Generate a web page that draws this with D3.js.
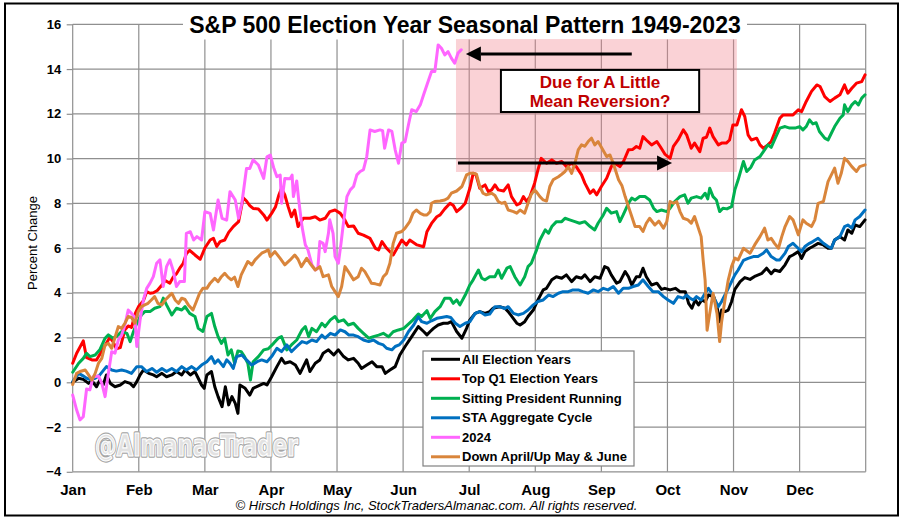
<!DOCTYPE html>
<html><head><meta charset="utf-8">
<script src="https://cdn.jsdelivr.net/npm/d3@7"></script>
<style>html,body{margin:0;padding:0;background:#fff;} svg{display:block;font-family:"Liberation Sans",Arial,sans-serif;}</style>
</head><body><svg id="chart" width="900" height="520"></svg>
<script>
// ---------- DATA ----------
const monthLabels = ["Jan","Feb","Mar","Apr","May","Jun","Jul","Aug","Sep","Oct","Nov","Dec"];
const yTickValues = [-4,-2,0,2,4,6,8,10,12,14,16];
const seriesNames = ["All Election Years","Top Q1 Election Years","Sitting President Running","STA Aggregate Cycle","2024","Down April/Up May & June"];
const titleText = "S&P 500 Election Year Seasonal Pattern 1949-2023";
const noteLines = ["Due for A Little","Mean Reversion?"];
const footerText = "© Hirsch Holdings Inc, StockTradersAlmanac.com. All rights reserved.";
const watermarkText = "@AlmanacTrader";
const yAxisTitle = "Percent Change";

// [month position (0 = Jan 1, 12 = Dec 31), percent change]
const allElectionYears = [[0,0],[0.09,0.18],[0.16,0.13],[0.24,-0.05],[0.29,0.07],[0.36,-0.2],[0.41,0.1],[0.46,-0.12],[0.51,0.33],[0.57,-0.05],[0.64,-0.2],[0.72,-0.12],[0.79,0.03],[0.87,-0.05],[0.92,-0.2],[0.97,0.03],[1.02,0.33],[1.07,0.55],[1.15,0.4],[1.22,0.33],[1.27,0.25],[1.35,0.4],[1.42,0.25],[1.5,0.33],[1.57,0.48],[1.65,0.33],[1.7,0.55],[1.78,0.33],[1.85,0.48],[1.9,0.18],[1.95,-0.12],[1.99,-0.27],[2.03,0.33],[2.1,0.48],[2.15,-0.2],[2.2,-0.64],[2.26,-1.09],[2.31,-0.2],[2.36,-1.01],[2.41,-0.64],[2.46,-0.94],[2.5,-1.39],[2.53,-0.12],[2.61,-0.27],[2.68,-0.57],[2.73,-0.27],[2.81,-0.16],[2.89,-0.05],[2.94,-0.12],[3.01,0.25],[3.09,0.7],[3.16,1.07],[3.21,0.85],[3.29,0.92],[3.37,0.77],[3.44,0.4],[3.49,0.7],[3.54,1.0],[3.59,0.48],[3.67,0.85],[3.74,1.0],[3.79,1.3],[3.87,1.45],[3.95,1.22],[4.02,1.45],[4.1,1.15],[4.17,1.0],[4.25,1.07],[4.32,0.85],[4.37,0.62],[4.45,0.77],[4.53,0.92],[4.6,0.7],[4.68,0.7],[4.73,0.4],[4.8,0.55],[4.88,0.7],[4.95,1.22],[5.03,1.6],[5.13,2.04],[5.23,2.49],[5.31,2.27],[5.36,2.12],[5.41,2.27],[5.46,2.41],[5.53,2.56],[5.61,2.64],[5.68,2.64],[5.73,2.71],[5.81,2.27],[5.89,1.97],[5.96,2.41],[6.01,2.79],[6.09,3.08],[6.16,3.16],[6.24,3.08],[6.31,3.16],[6.36,3.31],[6.46,3.38],[6.54,3.31],[6.59,3.16],[6.72,2.64],[6.77,2.56],[6.84,2.71],[6.89,2.94],[6.97,3.23],[7.04,3.68],[7.12,4.13],[7.17,4.2],[7.25,4.58],[7.32,4.72],[7.4,4.65],[7.47,4.8],[7.55,4.5],[7.62,4.72],[7.7,4.65],[7.75,4.8],[7.83,4.5],[7.9,4.72],[7.98,4.65],[8.05,5.17],[8.1,5.1],[8.15,4.8],[8.23,4.43],[8.28,4.5],[8.36,4.95],[8.41,4.72],[8.46,4.35],[8.53,4.72],[8.58,4.72],[8.63,5.1],[8.68,4.72],[8.76,4.35],[8.84,4.43],[8.91,4.15],[8.96,4.2],[9.04,4.13],[9.12,4.2],[9.19,4.05],[9.27,4.05],[9.32,3.53],[9.37,3.31],[9.42,3.68],[9.47,3.46],[9.52,3.68],[9.57,3.6],[9.62,3.9],[9.7,3.83],[9.75,3.38],[9.79,2.71],[9.82,3.23],[9.87,3.16],[9.92,3.23],[9.97,3.6],[10.02,4.15],[10.1,4.5],[10.17,4.68],[10.25,4.6],[10.33,4.75],[10.43,4.87],[10.5,5.1],[10.57,4.85],[10.62,5.02],[10.7,4.95],[10.78,5.25],[10.85,5.62],[10.9,5.69],[10.98,5.84],[11.03,5.54],[11.08,5.84],[11.15,5.99],[11.2,6.07],[11.28,6.21],[11.36,6.14],[11.43,5.99],[11.48,5.99],[11.53,6.36],[11.61,6.51],[11.68,6.36],[11.73,6.81],[11.79,6.66],[11.84,7.03],[11.91,6.96],[11.99,7.26]];

const topQ1ElectionYears = [[0,0.85],[0.06,1.3],[0.16,1.85],[0.21,1.1],[0.29,1.0],[0.36,1.0],[0.44,1.4],[0.51,1.75],[0.56,2.0],[0.61,1.82],[0.66,1.5],[0.72,1.55],[0.79,2.35],[0.84,2.52],[0.89,2.45],[0.95,3.1],[1.0,3.4],[1.07,3.65],[1.12,4.05],[1.17,3.98],[1.22,4.0],[1.28,4.1],[1.35,4.35],[1.4,4.55],[1.47,4.43],[1.52,4.7],[1.57,4.85],[1.62,5.1],[1.67,5.3],[1.72,5.75],[1.77,5.9],[1.85,5.69],[1.93,5.5],[2.0,6.0],[2.08,6.36],[2.13,6.44],[2.18,6.07],[2.23,6.29],[2.3,6.36],[2.36,6.7],[2.43,6.96],[2.51,7.18],[2.58,8.25],[2.63,8.1],[2.68,7.9],[2.73,7.77],[2.81,7.75],[2.89,7.48],[2.94,7.25],[3.01,7.55],[3.07,7.85],[3.12,8.37],[3.16,8.67],[3.21,8.37],[3.26,7.85],[3.31,7.4],[3.36,7.7],[3.41,6.96],[3.49,7.33],[3.59,7.33],[3.67,7.4],[3.74,7.25],[3.82,7.33],[3.89,7.63],[3.97,7.7],[4.05,7.55],[4.12,7.25],[4.17,6.96],[4.25,6.99],[4.32,6.66],[4.4,6.58],[4.5,6.43],[4.58,5.99],[4.63,5.92],[4.68,6.29],[4.75,5.99],[4.85,5.69],[4.98,6.36],[5.05,6.14],[5.1,6.36],[5.21,6.14],[5.31,6.06],[5.36,6.73],[5.43,7.1],[5.51,7.4],[5.56,7.48],[5.63,7.75],[5.71,8.0],[5.76,7.9],[5.81,7.63],[5.88,7.8],[5.94,8.0],[6.01,8.67],[6.06,9.34],[6.1,9.3],[6.16,8.67],[6.24,8.82],[6.29,8.52],[6.34,8.6],[6.39,8.82],[6.44,8.6],[6.52,8.55],[6.59,8.82],[6.64,8.3],[6.72,7.93],[6.77,8.0],[6.82,8.3],[6.87,8.08],[6.92,8.3],[6.99,8.9],[7.04,9.49],[7.09,10.01],[7.17,9.79],[7.25,9.94],[7.32,9.79],[7.4,9.87],[7.47,9.64],[7.55,9.79],[7.62,9.64],[7.7,9.27],[7.75,8.9],[7.83,8.45],[7.88,8.6],[7.93,8.38],[8.0,8.75],[8.08,9.12],[8.15,9.64],[8.2,9.79],[8.28,9.64],[8.34,9.9],[8.41,10.39],[8.47,10.4],[8.53,10.54],[8.58,10.46],[8.63,10.98],[8.68,10.83],[8.76,10.61],[8.84,10.76],[8.89,10.54],[8.96,10.2],[9.04,10.01],[9.09,10.54],[9.16,10.83],[9.24,11.28],[9.29,11.06],[9.36,10.46],[9.41,10.69],[9.49,10.31],[9.54,10.91],[9.59,10.95],[9.64,11.36],[9.69,10.98],[9.77,10.61],[9.82,10.69],[9.89,10.69],[9.94,10.83],[9.99,11.5],[10.05,11.5],[10.12,12.18],[10.17,11.88],[10.22,11.06],[10.27,10.83],[10.35,10.91],[10.4,10.61],[10.45,10.46],[10.52,10.61],[10.57,10.76],[10.62,11.13],[10.7,11.8],[10.75,11.95],[10.82,11.95],[10.9,11.95],[10.98,12.18],[11.03,12.1],[11.1,12.55],[11.18,13.0],[11.26,13.29],[11.31,13.22],[11.38,12.77],[11.46,12.55],[11.53,12.7],[11.61,12.85],[11.68,13.29],[11.73,12.92],[11.79,13.14],[11.86,13.37],[11.94,13.44],[11.99,13.74]];

const sittingPresidentRunning = [[0,0.45],[0.09,0.85],[0.16,1.07],[0.21,1.3],[0.26,1.15],[0.34,1.22],[0.41,1.45],[0.49,1.97],[0.54,2.12],[0.61,1.97],[0.69,2.12],[0.74,2.27],[0.82,2.19],[0.87,1.82],[0.92,2.27],[0.97,2.64],[1.04,3.01],[1.09,3.16],[1.17,3.16],[1.24,3.31],[1.32,3.38],[1.37,3.76],[1.42,3.46],[1.5,3.01],[1.57,3.31],[1.65,3.23],[1.7,3.38],[1.77,3.08],[1.85,2.94],[1.9,2.41],[1.97,2.27],[2.03,2.94],[2.1,3.08],[2.15,2.49],[2.2,2.04],[2.25,1.74],[2.3,1.97],[2.35,1.22],[2.4,1.45],[2.45,0.85],[2.5,1.4],[2.55,1.37],[2.6,1.15],[2.65,0.85],[2.69,0.1],[2.73,0.92],[2.81,1.15],[2.89,1.45],[2.96,1.5],[3.04,1.74],[3.11,1.97],[3.16,2.04],[3.24,1.45],[3.31,1.67],[3.39,1.89],[3.47,2.34],[3.52,2.49],[3.57,2.04],[3.62,2.41],[3.69,2.26],[3.77,2.64],[3.82,2.49],[3.9,2.79],[3.97,2.94],[4.02,2.71],[4.1,2.79],[4.17,2.56],[4.25,2.64],[4.32,2.41],[4.4,2.19],[4.48,1.97],[4.55,2.04],[4.63,2.11],[4.7,2.19],[4.78,2.04],[4.85,2.26],[4.93,2.34],[5.01,2.41],[5.08,2.6],[5.15,2.79],[5.23,3.05],[5.28,2.94],[5.36,3.2],[5.41,2.85],[5.48,3.16],[5.56,3.38],[5.63,3.76],[5.71,3.76],[5.76,3.53],[5.81,3.68],[5.86,3.46],[5.94,3.9],[6.01,4.35],[6.06,4.58],[6.14,5.02],[6.19,4.65],[6.24,4.58],[6.31,4.72],[6.39,4.72],[6.44,5.02],[6.49,4.65],[6.57,5.1],[6.62,5.17],[6.69,4.72],[6.77,4.35],[6.84,4.72],[6.89,5.17],[6.94,5.32],[7.02,5.92],[7.07,6.36],[7.15,6.81],[7.2,6.66],[7.25,6.96],[7.32,7.18],[7.4,7.18],[7.45,7.33],[7.52,7.26],[7.6,7.18],[7.67,7.11],[7.75,7.18],[7.83,6.96],[7.9,6.81],[7.95,7.11],[8.03,7.48],[8.08,7.78],[8.15,7.56],[8.23,7.63],[8.28,7.18],[8.33,7.48],[8.41,8.0],[8.46,8.23],[8.51,8.15],[8.58,8.3],[8.66,8.3],[8.73,8.15],[8.79,7.78],[8.84,7.63],[8.91,7.7],[8.99,7.63],[9.04,7.78],[9.11,8.08],[9.19,8.3],[9.26,8.38],[9.31,8.0],[9.36,8.23],[9.44,8.3],[9.51,8.23],[9.57,8.45],[9.61,8.2],[9.64,8.67],[9.69,8.3],[9.74,8.15],[9.79,7.63],[9.84,7.78],[9.9,7.75],[9.97,7.85],[10.02,8.6],[10.07,9.05],[10.15,9.87],[10.2,9.42],[10.26,9.6],[10.32,9.94],[10.4,10.09],[10.47,10.39],[10.52,10.61],[10.57,10.5],[10.62,10.83],[10.7,11.36],[10.78,11.43],[10.85,11.36],[10.93,11.36],[11.0,11.43],[11.05,11.28],[11.1,11.43],[11.15,11.73],[11.2,11.55],[11.25,11.6],[11.3,11.21],[11.38,10.91],[11.43,10.83],[11.48,11.13],[11.53,11.43],[11.61,11.8],[11.66,11.95],[11.68,12.4],[11.73,12.1],[11.79,12.4],[11.84,12.55],[11.89,12.4],[11.94,12.7],[11.99,12.85]];

const staAggregateCycle = [[0,0.03],[0.09,0.4],[0.15,0.3],[0.21,0.18],[0.27,0.12],[0.34,0.18],[0.41,0.33],[0.51,0.7],[0.59,0.55],[0.66,0.5],[0.74,0.55],[0.81,0.5],[0.89,0.4],[0.97,0.7],[1.04,0.7],[1.12,0.48],[1.2,0.62],[1.27,0.45],[1.35,0.62],[1.42,0.48],[1.5,0.62],[1.57,0.48],[1.65,0.7],[1.72,0.55],[1.8,0.7],[1.87,0.55],[1.95,0.77],[2.03,0.92],[2.1,1.15],[2.15,0.85],[2.2,1.0],[2.28,0.7],[2.33,1.0],[2.38,0.85],[2.43,0.62],[2.48,1.15],[2.56,1.22],[2.63,1.0],[2.71,0.77],[2.79,0.92],[2.86,1.0],[2.94,0.92],[3.01,1.15],[3.09,1.52],[3.16,1.37],[3.24,1.67],[3.31,1.37],[3.39,1.6],[3.47,1.82],[3.54,1.75],[3.62,1.89],[3.69,1.82],[3.77,2.11],[3.82,1.97],[3.9,2.19],[3.97,2.11],[4.05,2.34],[4.12,2.26],[4.18,2.11],[4.25,2.11],[4.32,2.04],[4.4,1.89],[4.48,1.82],[4.55,1.89],[4.63,1.74],[4.7,1.67],[4.75,1.52],[4.83,1.45],[4.88,1.6],[4.94,1.67],[5.01,1.89],[5.08,2.26],[5.16,2.56],[5.23,2.93],[5.28,2.71],[5.36,2.64],[5.43,2.75],[5.51,2.86],[5.58,2.9],[5.66,2.94],[5.72,2.9],[5.79,2.64],[5.86,2.49],[5.94,2.64],[6.01,2.71],[6.09,3.08],[6.16,3.16],[6.24,3.01],[6.31,3.05],[6.39,3.38],[6.46,3.38],[6.54,3.3],[6.59,3.38],[6.67,3.08],[6.74,3.01],[6.82,3.08],[6.89,3.23],[6.97,3.46],[7.04,3.61],[7.12,3.68],[7.2,3.9],[7.27,3.83],[7.35,3.98],[7.42,4.05],[7.5,4.05],[7.57,4.13],[7.65,4.13],[7.72,4.05],[7.8,3.98],[7.88,4.13],[7.95,4.05],[8.03,4.2],[8.1,4.13],[8.18,4.28],[8.26,3.98],[8.33,4.2],[8.41,4.2],[8.48,4.28],[8.56,4.35],[8.63,4.58],[8.71,4.28],[8.78,4.05],[8.86,4.05],[8.94,3.83],[9.01,3.68],[9.09,3.53],[9.16,3.83],[9.24,3.76],[9.29,3.9],[9.34,3.76],[9.39,3.68],[9.44,3.83],[9.51,3.68],[9.57,3.98],[9.62,4.2],[9.67,3.98],[9.72,3.68],[9.77,3.38],[9.82,3.61],[9.87,3.9],[9.92,4.2],[9.97,4.5],[10.02,4.8],[10.07,5.02],[10.15,5.45],[10.22,5.54],[10.3,5.62],[10.37,5.62],[10.45,5.77],[10.5,5.92],[10.57,5.62],[10.65,5.47],[10.7,5.47],[10.78,5.77],[10.83,6.07],[10.9,6.21],[10.95,6.07],[11.03,5.84],[11.08,6.07],[11.15,6.21],[11.2,6.29],[11.28,6.44],[11.36,6.21],[11.43,6.07],[11.48,5.99],[11.53,6.36],[11.61,6.51],[11.68,6.96],[11.73,7.03],[11.79,6.89],[11.84,7.26],[11.91,7.41],[11.99,7.7]];

const year2024 = [[0,-0.57],[0.06,-1.24],[0.11,-1.68],[0.16,-1.54],[0.21,-0.3],[0.26,-0.34],[0.31,0.25],[0.39,0.28],[0.44,-0.04],[0.49,-0.64],[0.54,0.4],[0.59,1.37],[0.64,1.3],[0.69,1.89],[0.74,2.1],[0.79,2.56],[0.84,3.23],[0.89,3.08],[0.94,2.9],[0.97,1.6],[1.02,2.79],[1.07,3.68],[1.12,4.2],[1.17,4.43],[1.22,4.72],[1.27,5.32],[1.32,5.47],[1.37,4.28],[1.42,5.17],[1.47,5.47],[1.52,5.0],[1.57,4.28],[1.62,4.5],[1.69,4.5],[1.72,6.66],[1.78,6.73],[1.83,6.36],[1.88,6.51],[1.95,6.36],[2.0,7.62],[2.08,7.55],[2.13,6.81],[2.2,8.15],[2.26,7.33],[2.33,7.25],[2.38,8.52],[2.46,8.15],[2.51,7.33],[2.56,8.0],[2.63,9.56],[2.68,9.56],[2.73,9.94],[2.81,9.71],[2.89,9.11],[2.94,10.08],[2.99,10.16],[3.04,9.6],[3.09,9.19],[3.14,9.26],[3.16,8.0],[3.21,9.11],[3.29,9.1],[3.32,9.26],[3.34,8.3],[3.39,9.0],[3.42,8.15],[3.47,6.96],[3.52,6.15],[3.56,5.92],[3.62,5.25],[3.67,5.02],[3.71,5.1],[3.74,6.29],[3.79,6.21],[3.82,5.84],[3.87,6.66],[3.89,7.26],[3.94,6.66],[3.97,5.62],[4.02,5.32],[4.06,6.2],[4.09,6.96],[4.15,8.3],[4.2,8.6],[4.25,8.75],[4.3,9.27],[4.35,9.42],[4.4,9.5],[4.45,10.09],[4.5,11.28],[4.57,11.21],[4.65,11.28],[4.69,11.25],[4.72,10.46],[4.78,11.28],[4.83,11.21],[4.88,10.39],[4.93,9.79],[4.98,10.69],[5.03,10.76],[5.08,11.5],[5.13,12.18],[5.2,12.1],[5.26,12.4],[5.31,12.85],[5.36,13.29],[5.43,13.89],[5.48,13.89],[5.53,15.08],[5.58,14.93],[5.63,14.63],[5.68,14.78],[5.73,14.49],[5.78,14.26],[5.83,14.71],[5.88,14.86]];

const downAprilUpMayJune = [[0,-0.1],[0.06,0.4],[0.11,0.48],[0.19,0.55],[0.24,0.33],[0.29,0.1],[0.34,0.4],[0.39,0.85],[0.44,1.07],[0.49,1.67],[0.54,1.74],[0.59,1.52],[0.64,2.0],[0.69,2.49],[0.74,2.41],[0.79,2.64],[0.84,2.94],[0.89,2.9],[0.94,2.64],[0.99,3.16],[1.04,3.38],[1.09,3.46],[1.14,3.53],[1.19,3.68],[1.24,3.83],[1.29,3.53],[1.35,3.46],[1.4,3.68],[1.45,3.83],[1.5,3.98],[1.55,3.68],[1.6,3.53],[1.65,3.76],[1.7,3.7],[1.75,3.46],[1.82,3.23],[1.87,3.6],[1.92,3.98],[1.97,4.2],[2.03,4.2],[2.08,4.43],[2.15,4.65],[2.2,4.5],[2.25,4.72],[2.3,4.87],[2.35,4.7],[2.4,4.58],[2.45,4.7],[2.5,4.28],[2.55,4.8],[2.6,5.1],[2.65,5.4],[2.71,5.25],[2.76,5.47],[2.81,5.62],[2.86,5.77],[2.91,5.84],[2.96,5.92],[2.99,5.62],[3.06,5.84],[3.14,5.54],[3.21,5.25],[3.29,5.47],[3.36,5.69],[3.41,5.5],[3.46,5.17],[3.54,5.54],[3.59,5.32],[3.67,5.02],[3.74,5.17],[3.79,4.72],[3.87,4.8],[3.92,4.28],[3.97,4.05],[4.02,3.83],[4.07,4.28],[4.12,5.17],[4.17,4.95],[4.25,4.58],[4.32,4.72],[4.37,5.1],[4.42,4.95],[4.47,4.7],[4.52,4.43],[4.58,4.4],[4.65,4.35],[4.7,4.72],[4.75,4.87],[4.8,5.32],[4.85,6.21],[4.9,6.66],[4.98,6.74],[5.03,6.89],[5.1,7.18],[5.15,7.56],[5.2,7.7],[5.26,7.55],[5.31,7.48],[5.36,7.48],[5.41,7.63],[5.43,8.0],[5.48,8.08],[5.56,8.1],[5.63,8.15],[5.68,8.23],[5.73,8.45],[5.81,8.55],[5.89,8.75],[5.96,9.27],[6.01,9.34],[6.06,9.34],[6.11,9.3],[6.16,8.75],[6.21,8.45],[6.26,8.38],[6.34,8.45],[6.39,8.35],[6.44,8.08],[6.49,8.0],[6.54,8.05],[6.59,7.7],[6.67,7.63],[6.72,7.56],[6.77,7.7],[6.84,7.56],[6.89,8.0],[6.94,8.4],[6.99,8.6],[7.02,8.5],[7.07,8.3],[7.12,8.15],[7.17,8.1],[7.22,8.75],[7.27,9.05],[7.35,9.19],[7.4,9.3],[7.45,9.42],[7.5,9.64],[7.55,9.34],[7.6,9.79],[7.65,10.39],[7.7,10.61],[7.75,10.55],[7.8,10.76],[7.85,10.91],[7.9,10.61],[7.95,10.76],[8.0,10.5],[8.08,10.09],[8.13,10.16],[8.18,9.79],[8.26,9.05],[8.31,8.8],[8.36,8.3],[8.41,7.85],[8.46,7.41],[8.51,6.96],[8.58,6.96],[8.63,6.74],[8.68,7.11],[8.73,7.33],[8.81,7.03],[8.87,7.2],[8.94,6.89],[8.99,7.18],[9.04,8.08],[9.09,8.0],[9.14,8.08],[9.19,7.63],[9.24,7.33],[9.31,7.26],[9.36,7.11],[9.41,7.41],[9.46,6.96],[9.51,6.51],[9.54,5.47],[9.57,4.57],[9.6,2.33],[9.64,3.08],[9.69,3.98],[9.75,3.08],[9.79,1.82],[9.82,2.71],[9.87,3.68],[9.92,4.57],[9.97,5.17],[10.02,5.55],[10.07,5.47],[10.15,5.99],[10.25,5.77],[10.32,6.14],[10.4,6.51],[10.47,6.89],[10.52,6.36],[10.57,6.44],[10.62,6.21],[10.68,5.99],[10.73,6.51],[10.78,6.96],[10.85,7.41],[10.9,7.26],[10.98,6.59],[11.05,7.26],[11.1,7.11],[11.18,6.96],[11.23,7.26],[11.28,8.0],[11.36,8.08],[11.43,8.97],[11.53,9.57],[11.58,8.9],[11.63,9.34],[11.68,10.01],[11.73,9.87],[11.79,9.64],[11.86,9.42],[11.91,9.64],[11.99,9.72]];

// Annotation anchors in data units
const shadeRange = {m0: 5.80, m1: 10.05, v0: 9.40, v1: 15.34};
const noteBox = {m0: 6.48, m1: 9.48, v0: 12.08, v1: 13.96};
const arrowTop = {from: 8.46, to: 5.95, v: 14.67};
const arrowBottom = {from: 5.83, to: 9.07, v: 9.80};

// ---------- STYLE ----------
const seriesColors = ["#000000","#ff0000","#00b050","#0070c0","#ff66ff","#d9853b"];
const seriesData = [allElectionYears, topQ1ElectionYears, sittingPresidentRunning, staAggregateCycle, year2024, downAprilUpMayJune];
const gridColor = "#8f8f8f";

const svg = d3.select("#chart");
const x = d3.scaleLinear().domain([0,12]).range([72.7,865.7]);
const y = d3.scaleLinear().domain([-4,16]).range([471.8,24.3]);

svg.append("rect").attr("width",900).attr("height",520).attr("fill","#fff");

// gridlines
const grid = svg.append("g");
grid.selectAll("line.h").data(yTickValues).join("line")
  .attr("x1",x(0)).attr("x2",x(12)).attr("y1",d=>y(d)).attr("y2",d=>y(d))
  .attr("stroke",gridColor).attr("stroke-width",1.2);
grid.selectAll("line.v").data(d3.range(13)).join("line")
  .attr("x1",d=>x(d)).attr("x2",d=>x(d)).attr("y1",y(16)).attr("y2",y(-4))
  .attr("stroke",gridColor).attr("stroke-width",1.2);

// y axis
const yAxis = svg.append("g").attr("transform",`translate(${x(0)},0)`)
  .call(d3.axisLeft(y).tickValues(yTickValues).tickSize(6).tickPadding(5.5)
    .tickFormat(d => d < 0 ? "\u2212" + Math.abs(d) : String(d)));
yAxis.select(".domain").remove();
yAxis.selectAll(".tick line").attr("stroke",gridColor).attr("stroke-width",1.2);
yAxis.selectAll("text").attr("font-size",13).attr("font-weight","bold").attr("fill","#000")
  .attr("font-family","Liberation Sans, Arial, sans-serif");

// x axis
const xAxis = svg.append("g").attr("transform",`translate(0,${y(-4)})`)
  .call(d3.axisBottom(x).tickValues(d3.range(12)).tickSize(0).tickPadding(12.5)
    .tickFormat(i => monthLabels[i]));
xAxis.select(".domain").remove();
xAxis.selectAll("text").attr("font-size",15).attr("font-weight","bold").attr("fill","#000")
  .attr("font-family","Liberation Sans, Arial, sans-serif");

// y axis title
svg.append("text").attr("transform","translate(36.5,243) rotate(-90)")
  .attr("text-anchor","middle").attr("font-size",13).attr("fill","#000").text(yAxisTitle);

// title background + title
svg.append("rect").attr("x",183).attr("y",6).attr("width",564).attr("height",33.5).attr("fill","#fff");
svg.append("text").attr("x",465).attr("y",33).attr("text-anchor","middle")
  .attr("font-size",23).attr("font-weight","bold").attr("fill","#000").text(titleText);

// watermark
const wm = svg.append("g");
wm.append("text").attr("x",95).attr("y",456).attr("font-family","DejaVu Sans Condensed, DejaVu Sans, sans-serif")
  .attr("font-weight","bold").attr("font-size",31).attr("textLength",203).attr("lengthAdjust","spacingAndGlyphs")
  .attr("fill","none").attr("stroke","#a6a6a6").attr("stroke-width",3.5).attr("stroke-linejoin","round").text(watermarkText);
wm.append("text").attr("x",95).attr("y",456).attr("font-family","DejaVu Sans Condensed, DejaVu Sans, sans-serif")
  .attr("font-weight","bold").attr("font-size",31).attr("textLength",203).attr("lengthAdjust","spacingAndGlyphs")
  .attr("fill","#e2e2e2").attr("stroke","#ffffff").attr("stroke-width",1.2).attr("stroke-linejoin","round").text(watermarkText);

// pink shaded region
svg.append("rect").attr("x",x(shadeRange.m0)).attr("y",y(shadeRange.v1))
  .attr("width",x(shadeRange.m1)-x(shadeRange.m0)).attr("height",y(shadeRange.v0)-y(shadeRange.v1))
  .attr("fill","rgb(240,130,140)").attr("fill-opacity",0.36);

// lines
const line = d3.line().x(d=>x(d[0])).y(d=>y(d[1]));
svg.append("g").selectAll("path").data(seriesData).join("path")
  .attr("d",line).attr("fill","none").attr("stroke",(d,i)=>seriesColors[i])
  .attr("stroke-width",3).attr("stroke-linejoin","round").attr("stroke-linecap","round");

// note box
svg.append("rect").attr("x",x(noteBox.m0)).attr("y",y(noteBox.v1))
  .attr("width",x(noteBox.m1)-x(noteBox.m0)).attr("height",y(noteBox.v0)-y(noteBox.v1))
  .attr("fill","#fff").attr("stroke","#000").attr("stroke-width",2);
const noteCx = (x(noteBox.m0)+x(noteBox.m1))/2;
svg.selectAll("text.note").data(noteLines).join("text").attr("class","note")
  .attr("x",noteCx).attr("y",(d,i)=>87.5+i*19.5).attr("text-anchor","middle")
  .attr("font-size",17).attr("font-weight","bold").attr("fill","#c00000").text(d=>d);

// arrows
function arrow(a){
  const y0 = y(a.v), xs = x(a.from), xt = x(a.to);
  const dir = xt > xs ? 1 : -1;
  const back = xt - dir*15;
  svg.append("line").attr("x1",xs).attr("x2",back).attr("y1",y0).attr("y2",y0)
    .attr("stroke","#000").attr("stroke-width",3);
  svg.append("path").attr("d",`M${xt},${y0} L${back},${y0-7.5} L${back},${y0+7.5} Z`).attr("fill","#000");
}
arrow(arrowTop);
arrow(arrowBottom);

// legend
const lg = svg.append("g");
lg.append("rect").attr("x",423).attr("y",351).attr("width",211).attr("height",115)
  .attr("fill","#fff").attr("stroke","#808080").attr("stroke-width",1.2);
const rows = lg.selectAll("g.row").data(seriesNames).join("g").attr("class","row")
  .attr("transform",(d,i)=>`translate(0,${359.3+i*19.5})`);
rows.append("line").attr("x1",431).attr("x2",460).attr("y1",0).attr("y2",0)
  .attr("stroke",(d,i)=>seriesColors[i]).attr("stroke-width",3);
rows.append("text").attr("x",462).attr("y",0).attr("dy","0.35em")
  .attr("font-size",13).attr("font-weight","bold").attr("fill","#000").text(d=>d);

// footer
svg.append("text").attr("x",436.5).attr("y",510).attr("text-anchor","middle")
  .attr("font-size",13).attr("font-style","italic").attr("fill","#000").text(footerText);

// outer frame
svg.append("rect").attr("x",5).attr("y",3.5).attr("width",893).attr("height",512)
  .attr("fill","none").attr("stroke","#000").attr("stroke-width",2);
</script>
</body></html>
